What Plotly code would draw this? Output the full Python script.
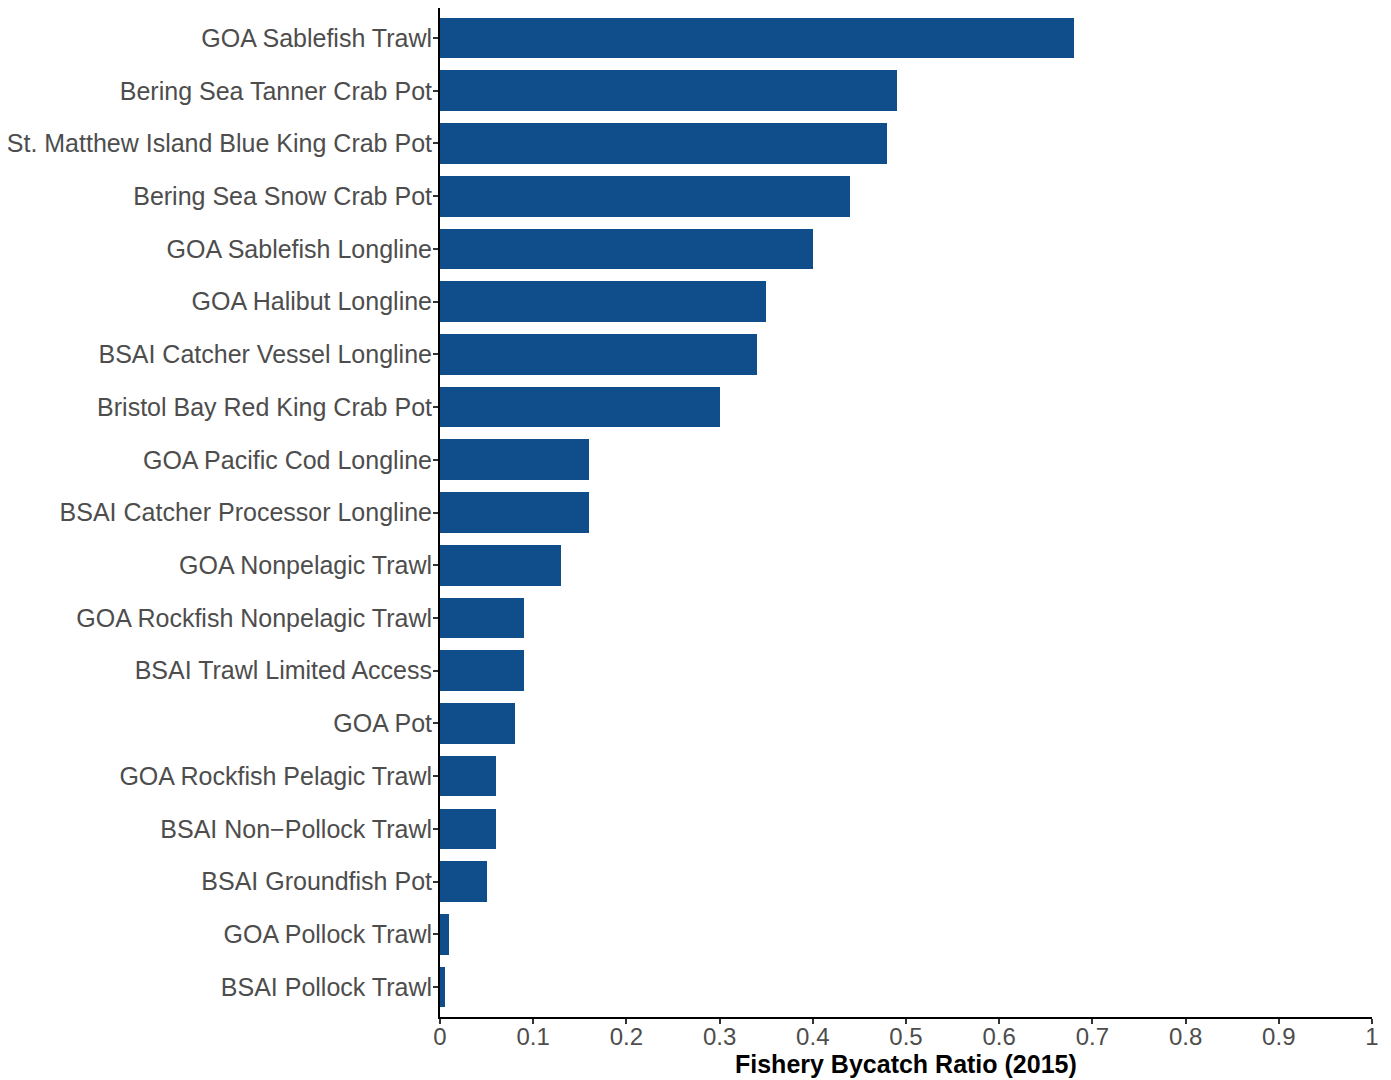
import plotly.graph_objects as go

fisheries = [
    "GOA Sablefish Trawl", "Bering Sea Tanner Crab Pot", "St. Matthew Island Blue King Crab Pot",
    "Bering Sea Snow Crab Pot", "GOA Sablefish Longline", "GOA Halibut Longline",
    "BSAI Catcher Vessel Longline", "Bristol Bay Red King Crab Pot", "GOA Pacific Cod Longline",
    "BSAI Catcher Processor Longline", "GOA Nonpelagic Trawl", "GOA Rockfish Nonpelagic Trawl",
    "BSAI Trawl Limited Access", "GOA Pot", "GOA Rockfish Pelagic Trawl",
    "BSAI Non\u2212Pollock Trawl", "BSAI Groundfish Pot", "GOA Pollock Trawl", "BSAI Pollock Trawl",
]
ratios = [0.68, 0.49, 0.48, 0.44, 0.40, 0.35, 0.34, 0.30, 0.16, 0.16, 0.13, 0.09, 0.09,
          0.08, 0.06, 0.06, 0.05, 0.01, 0.005]
x_ticks = [0, 0.1, 0.2, 0.3, 0.4, 0.5, 0.6, 0.7, 0.8, 0.9, 1]
x_tick_labels = ["0", "0.1", "0.2", "0.3", "0.4", "0.5", "0.6", "0.7", "0.8", "0.9", "1"]
x_title = "Fishery Bycatch Ratio (2015)"

fig = go.Figure(go.Bar(
    x=ratios, y=fisheries, orientation="h",
    marker=dict(color="#104E8B", line=dict(width=0)),
    width=0.77,
))

# page body has an 8px default margin; size the figure to fill the remaining window
fig.update_layout(
    width=1383, height=1072,
    margin=dict(l=432, r=19, t=0, b=63, autoexpand=False),
    plot_bgcolor="white", paper_bgcolor="white",
    font=dict(family="Liberation Sans, Arial, sans-serif", size=25, color="#4d4d4d"),
    showlegend=False,
    bargap=0,
)
fig.update_xaxes(
    range=[0, 1], tickvals=x_ticks, ticktext=x_tick_labels,
    showgrid=False, zeroline=False,
    showline=True, linecolor="black", linewidth=2,
    ticks="outside", ticklen=5, tickcolor="#333333", tickwidth=1.5,
    tickfont=dict(size=24, color="#4d4d4d"),
    ticklabelstandoff=-8,
)
fig.update_yaxes(
    categoryorder="array", categoryarray=fisheries,
    range=[18.57, -0.57],
    showgrid=False, zeroline=False,
    showline=True, linecolor="black", linewidth=2,
    ticks="outside", ticklen=5, tickcolor="#333333", tickwidth=1.5,
    tickfont=dict(size=25, color="#4d4d4d"),
    ticklabelstandoff=-4,
)
fig.add_annotation(
    text="<b>" + x_title + "</b>", xref="paper", yref="paper", x=0.5, y=0,
    xanchor="center", yanchor="middle", yshift=-47, showarrow=False,
    font=dict(size=25, color="black"),
)

fig.write_html("out.html")
